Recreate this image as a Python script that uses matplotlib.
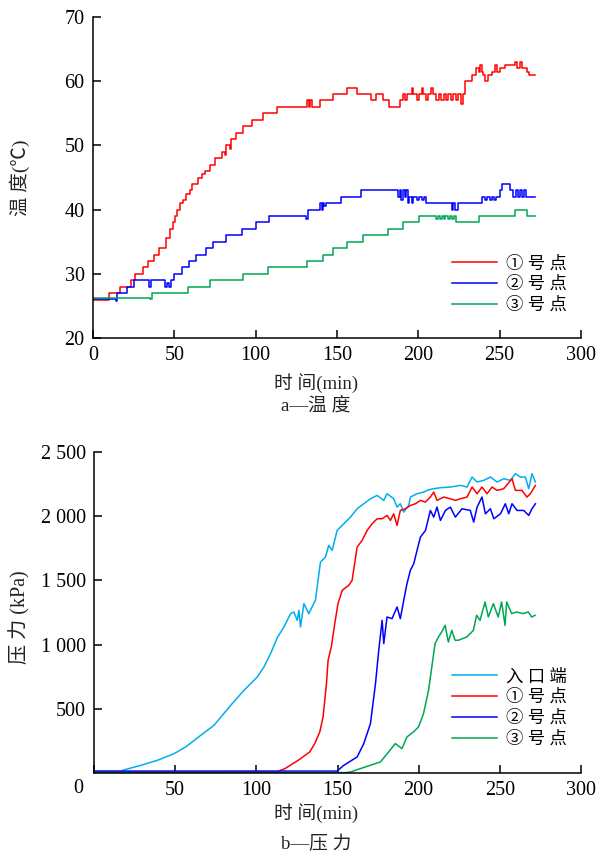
"""Two-panel chart: temperature and pressure at the monitoring points over time."""

import matplotlib

matplotlib.use("Agg")
import matplotlib.pyplot as plt

OUTPUT_PATH = "out.png"

# ---- panel a: temperature (step data, min / degC) ----
TEMP_RED_T = [0, 10, 16.5, 23.5, 26, 31, 34, 37.5, 40.5, 45, 47.5, 49, 50.5, 51.5, 53.5,
              55.5, 57, 59.5, 61, 64.5, 67, 69, 72, 75, 79, 81, 82, 84, 85, 88, 92.5,
              97.5, 104.5, 113, 131.5, 132.5, 133.5, 134.5, 139.5, 147.5, 156, 162,
              171, 174, 178, 182, 189, 190.5, 192, 193, 196, 197, 199, 200.5, 202,
              203, 204.5, 206, 208, 209, 211, 212.5, 214, 215.5, 217, 218.5, 220,
              221.5, 223, 224.5, 226, 227.5, 228.5, 233, 235.5, 237, 238, 239, 240,
              241, 243, 245, 247, 248.5, 250, 253, 259.5, 260.5, 262.5, 263.5, 267,
              268, 272]
TEMP_RED_V = [25.9, 27, 28, 29, 30, 31, 32, 33, 34, 35.5, 37, 38, 39, 40, 41,
              41.5, 42.5, 43, 44, 45, 45.5, 46, 47, 48, 49, 48.5, 50, 49.5, 51, 52, 53,
              54, 55, 56, 57, 56, 57, 56, 57, 58, 59, 58,
              57, 58, 57, 56, 57, 58, 57, 58, 59, 58, 57, 58, 59,
              58, 57, 58, 59, 58, 57, 58, 57, 58, 57, 58, 57,
              58, 57, 58, 56.5, 58, 60, 61, 62, 61.5, 62.5, 61.5, 61,
              60, 61, 61.5, 62.5, 61.5, 62, 62.5, 63, 62, 63, 62, 61.5,
              61, 61]

TEMP_BLUE_T = [0, 14, 15, 21, 25.5, 34.5, 35.5, 44.5, 45.5, 46.5, 48, 49.5, 55, 59,
               63.5, 69.5, 74, 82, 91.5, 100.5, 108.5, 131, 132, 139.5, 140.5, 141.5,
               142, 143, 152.5, 165, 187.5, 188.5, 189.5, 190.5, 191.5, 192.5, 193.5,
               194.5, 196, 197, 199, 200.5, 202, 203.5, 205, 220.5, 221.5, 222.5,
               224.5, 239, 241, 242, 244, 245, 246.5, 247.5, 250.5, 251.5, 256.5, 258,
               260, 261, 262.5, 264, 265, 266, 272]
TEMP_BLUE_V = [26.1, 25.8, 27, 28, 29, 28, 29, 28, 28.5, 28, 29, 30, 31, 32,
               33, 34, 35, 36, 37, 38, 39, 38.5, 40, 41, 40, 41,
               40.5, 41, 42, 43, 42, 43, 41.5, 43, 42, 43, 41,
               42, 41, 42, 41.5, 42, 41.5, 42, 41, 40, 41, 40,
               41, 42, 41.5, 42, 41.5, 42, 41.5, 42, 43, 44, 43, 42,
               43, 42, 43, 42, 43, 42, 42]

TEMP_GREEN_T = [0, 35, 36, 58.5, 72, 92.5, 107.5, 131.5, 141.5, 147.5, 156, 166, 181.5,
                190.5, 200.5, 211, 212, 213.5, 214.5, 215.5, 216.5, 218.5, 219.5, 221,
                222, 223, 237, 237.5, 259.5, 266.5, 272]
TEMP_GREEN_V = [26.2, 26, 27, 28, 29, 30, 31, 32, 33, 34, 35, 36, 37,
                38, 39, 38.5, 39, 38.5, 39, 38.5, 39, 38.5, 39, 38.5,
                39, 38, 38.5, 39, 40, 39, 39]

# ---- panel b: pressure (min / kPa) ----
P_INLET_T = [0, 17, 17.6, 28.9, 39.1, 49.4, 56.5, 65.8, 73.9, 84.2, 92.4, 100.6, 104.7,
             108.8, 112.9, 117, 121.1, 123.1, 125.2, 126.2, 127.2, 129.3, 132.3, 136.4,
             139.5, 142.6, 144.6, 146.7, 149.8, 153.9, 158, 162.1, 166.2, 170.3, 174.4,
             178.5, 180.5, 184.6, 186.7, 188.7, 190.8, 193.9, 194.9, 199, 203.1, 206.2,
             209.3, 213.4, 219.6, 225.7, 229.8, 232.9, 236, 240.1, 244.2, 248.3, 252.4,
             256.5, 259.6, 262.6, 265.7, 267.8, 269.8, 271.9]
P_INLET_V = [12, 12, 21, 60, 99, 151, 203, 294, 371, 527, 644, 748, 826,
             930, 1054, 1137, 1241, 1254, 1189, 1267, 1137, 1319, 1241, 1345,
             1643, 1682, 1773, 1734, 1890, 1941, 1993, 2058, 2097, 2136, 2162,
             2123, 2175, 2136, 2071, 2097, 2032, 2084, 2149, 2175, 2188, 2206,
             2214, 2222, 2227, 2240, 2227, 2305, 2266, 2279, 2305, 2266, 2292,
             2279, 2331, 2305, 2305, 2214, 2331, 2266]

P_RED_T = [0, 112.7, 117.6, 125.8, 132.9, 136, 139.1, 141.1, 143.2, 144.2, 146.2, 148.3,
           150.3, 152.9, 157, 159, 162.1, 165.2, 168.3, 171.3, 174.4, 177.5, 180.5,
           182.6, 184.6, 186.7, 188.7, 191.8, 194.9, 198, 201.1, 204.1, 207.2, 209.3,
           211.3, 215.4, 219.5, 222.6, 225.7, 229.8, 232.9, 236, 239, 242.1, 245.2,
           248.3, 252.4, 257.5, 259.6, 263.6, 266.7, 268.8, 271.9]
P_RED_V = [8, 10, 34, 99, 164, 229, 320, 437, 696, 878, 982, 1163,
           1319, 1423, 1462, 1501, 1760, 1812, 1890, 1941, 1980, 1980, 2006,
           1967, 2019, 1928, 2045, 2058, 2084, 2097, 2123, 2110, 2149, 2188,
           2123, 2149, 2136, 2123, 2136, 2149, 2227, 2175, 2227, 2175, 2227,
           2201, 2214, 2292, 2201, 2201, 2149, 2175, 2240]

P_BLUE_T = [0, 149.8, 153.9, 162.1, 166.2, 170.3, 173.4, 175.4, 177.5, 178.5, 180.5,
            183.6, 186.7, 188.7, 190.8, 192.8, 194.9, 197, 199, 201.1, 204.2, 207.2,
            209.3, 211.3, 213.4, 216.5, 219.5, 222.6, 226.7, 231.8, 233.9, 236, 239,
            241.1, 244.2, 246.3, 250.4, 253.4, 255.5, 257.5, 260.6, 264.7, 267.8,
            269.8, 271.9]
P_BLUE_V = [15, 15, 60, 125, 229, 385, 696, 955, 1189, 1008, 1215,
            1202, 1293, 1202, 1345, 1475, 1579, 1631, 1734, 1838, 1889, 2045,
            1993, 2071, 1967, 2045, 2071, 1993, 2058, 2045, 1954, 2071, 2149,
            2019, 2058, 1980, 2019, 2097, 2019, 2097, 2045, 2045, 2006,
            2058, 2097]

P_GREEN_T = [0, 155, 158, 164.1, 170.2, 176.4, 181.5, 185.6, 189.7, 192.8, 196.8, 199.9,
             203, 206.1, 208.1, 210.1, 212.2, 214.2, 216.3, 218.3, 220.4, 222.4, 224.5,
             229.6, 233.7, 235.7, 237.8, 240.9, 242.9, 246, 249, 251.1, 253.2, 254.2,
             257.3, 260.3, 264.4, 267.5, 269.6, 271.7]
P_GREEN_V = [3, 3, 8, 34, 60, 86, 164, 229, 190, 281, 320, 359,
             463, 645, 826, 1008, 1059, 1099, 1150, 1020, 1111, 1034, 1034,
             1059, 1111, 1228, 1189, 1332, 1215, 1319, 1215, 1332, 1150, 1332,
             1241, 1254, 1241, 1254, 1215, 1228]

TEMP_LABELS = ["① 号 点", "② 号 点", "③ 号 点"]
PRESS_LABELS = ["入 口 端", "① 号 点", "② 号 点", "③ 号 点"]
TIME_TICKS = [0, 50, 100, 150, 200, 250, 300]
TEMP_TICKS = [20, 30, 40, 50, 60, 70]
PRESS_TICKS = [500, 1000, 1500, 2000, 2500]
PRESS_TICK_LABELS = ["500", "1 000", "1 500", "2 000", "2 500"]

RED, BLUE, GREEN, CYAN = "#FF0000", "#0000FF", "#00A651", "#00AEEF"
FONTS = ["Liberation Serif", "Noto Sans CJK SC"]
TEXT_COLOR = "#222222"
TICK_SIZE = 14.5
LABEL_SIZE = 13.5
LEGEND_SIZE = 12.5


def _style_axis(axis):
    axis.spines["top"].set_visible(False)
    axis.spines["right"].set_visible(False)
    for side in ("left", "bottom"):
        axis.spines[side].set_linewidth(1.1)
    axis.tick_params(direction="in", length=5.5, width=1.1, labelsize=TICK_SIZE,
                     pad=6, colors="black")
    for label in axis.get_xticklabels() + axis.get_yticklabels():
        label.set_family(FONTS)


def _legend(axis, top_px):
    axis.legend(loc="upper left", bbox_to_anchor=(452 / 598, 1 - top_px / 857),
                bbox_transform=axis.figure.transFigure, frameon=False,
                fontsize=LEGEND_SIZE, handlelength=2.6, handletextpad=0.5,
                labelspacing=0.26, borderpad=0, borderaxespad=0)


def main():
    plt.rcParams["font.family"] = FONTS
    fig = plt.figure(figsize=(5.98, 8.57), dpi=100)

    # panel a
    ax_t = fig.add_axes([93 / 598, 1 - 338 / 857, 488 / 598, 321 / 857])
    ax_t.plot(TEMP_RED_T, TEMP_RED_V, drawstyle="steps-post", color=RED, lw=1.1,
              label=TEMP_LABELS[0])
    ax_t.plot(TEMP_BLUE_T, TEMP_BLUE_V, drawstyle="steps-post", color=BLUE, lw=1.1,
              label=TEMP_LABELS[1])
    ax_t.plot(TEMP_GREEN_T, TEMP_GREEN_V, drawstyle="steps-post", color=GREEN, lw=1.1,
              label=TEMP_LABELS[2])
    ax_t.set_xlim(0, 300)
    ax_t.set_ylim(20, 70)
    ax_t.set_xticks(TIME_TICKS)
    ax_t.set_yticks(TEMP_TICKS)
    _style_axis(ax_t)
    _legend(ax_t, 256)
    fig.text(20 / 598, 1 - 178 / 857, "温 度(℃)", rotation=90, ha="center",
             va="center", fontsize=14, color=TEXT_COLOR)
    fig.text(316 / 598, 1 - 383 / 857, "时 间(min)", ha="center", va="center",
             fontsize=LABEL_SIZE, color=TEXT_COLOR)
    fig.text(316 / 598, 1 - 407 / 857, "a—温 度", ha="center", va="center",
             fontsize=LABEL_SIZE, color=TEXT_COLOR)

    # panel b
    ax_p = fig.add_axes([94 / 598, 1 - 773 / 857, 487 / 598, 321 / 857])
    ax_p.plot(P_INLET_T, P_INLET_V, color=CYAN, lw=1.1, label=PRESS_LABELS[0])
    ax_p.plot(P_RED_T, P_RED_V, color=RED, lw=1.1, label=PRESS_LABELS[1])
    ax_p.plot(P_BLUE_T, P_BLUE_V, color=BLUE, lw=1.1, label=PRESS_LABELS[2])
    ax_p.plot(P_GREEN_T, P_GREEN_V, color=GREEN, lw=1.1, label=PRESS_LABELS[3])
    ax_p.set_xlim(0, 300)
    ax_p.set_ylim(0, 2500)
    ax_p.set_xticks(TIME_TICKS)
    ax_p.set_xticklabels([""] + [str(t) for t in TIME_TICKS[1:]])
    ax_p.set_yticks(PRESS_TICKS)
    ax_p.set_yticklabels(PRESS_TICK_LABELS)
    _style_axis(ax_p)
    ax_p.annotate("0", xy=(0, 0), xycoords="axes fraction", xytext=(-11, -11),
                  textcoords="offset points", ha="center", va="center",
                  fontsize=TICK_SIZE, family=FONTS)
    _legend(ax_p, 669)
    fig.text(20 / 598, 1 - 617 / 857, "压 力 (kPa)", rotation=90, ha="center",
             va="center", fontsize=14.5, color=TEXT_COLOR)
    fig.text(316 / 598, 1 - 813 / 857, "时 间(min)", ha="center", va="center",
             fontsize=LABEL_SIZE, color=TEXT_COLOR)
    fig.text(316 / 598, 1 - 845 / 857, "b—压 力", ha="center", va="center",
             fontsize=LABEL_SIZE, color=TEXT_COLOR)

    fig.savefig(OUTPUT_PATH, dpi=100, facecolor="white")
    plt.close(fig)


if __name__ == "__main__":
    main()
